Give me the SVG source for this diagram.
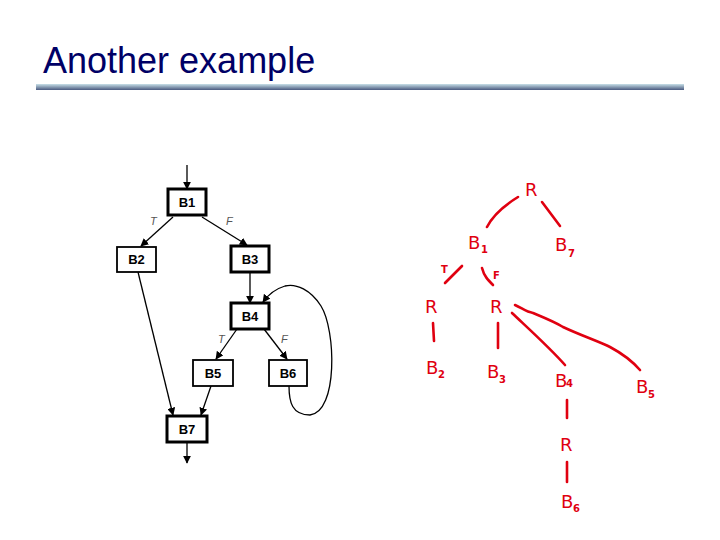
<svg xmlns="http://www.w3.org/2000/svg" width="720" height="540" viewBox="0 0 720 540">
<style>
.box{fill:#fff;stroke:#000}
.thick{stroke-width:3}
.thin{stroke-width:1.8}
.bl{font-family:"Liberation Sans",Arial,sans-serif;font-weight:bold;font-size:13px;text-anchor:middle;fill:#000}
.tf{font-family:"Liberation Sans",Arial,sans-serif;font-style:italic;font-size:11px;fill:#555}
.e{fill:none;stroke:#000;stroke-width:1.3}
.hw{fill:none;stroke:#e00010;stroke-width:2.6;stroke-linecap:round}
.ht{font-family:"DejaVu Sans",sans-serif;font-size:18px;fill:#e00010}
.hs{font-family:"DejaVu Sans",sans-serif;font-size:10px;fill:#e00010;font-weight:bold}
</style>
<defs>
<linearGradient id="bar" x1="0" y1="0" x2="0" y2="1">
<stop offset="0" stop-color="#c8e0e8"/>
<stop offset="1" stop-color="#4a5a80"/>
</linearGradient>
<marker id="ah" viewBox="0 0 10 10" refX="9" refY="5" markerWidth="8" markerHeight="8" markerUnits="userSpaceOnUse" orient="auto">
<path d="M0,0 L10,5 L0,10 z" fill="#000"/>
</marker>
</defs>
<rect width="720" height="540" fill="#fff"/>
<text x="43" y="73" font-family="Liberation Sans,Arial,sans-serif" font-size="36" fill="#000066">Another example</text>
<rect x="36" y="84" width="648" height="6" fill="url(#bar)"/>

<g id="connectors">
<line x1="187" y1="165" x2="187" y2="189" class="e" stroke-width="2.5" marker-end="url(#ah)"/>
<line x1="173" y1="217" x2="141" y2="246" class="e" stroke-width="1.6" marker-end="url(#ah)"/>
<line x1="202" y1="217" x2="247" y2="245" class="e" stroke-width="1.6" marker-end="url(#ah)"/>
<line x1="250" y1="272" x2="250" y2="303" class="e" stroke-width="2.5" marker-end="url(#ah)"/>
<line x1="237" y1="329" x2="216" y2="359" class="e" stroke-width="1.6" marker-end="url(#ah)"/>
<line x1="264" y1="329" x2="287" y2="359" class="e" stroke-width="1.6" marker-end="url(#ah)"/>
<line x1="138" y1="272" x2="173" y2="415" class="e" marker-end="url(#ah)"/>
<line x1="211" y1="386" x2="201" y2="415" class="e" marker-end="url(#ah)"/>
<line x1="187" y1="442" x2="187" y2="463" class="e" stroke-width="2.5" marker-end="url(#ah)"/>
<path d="M289,386 C289,402 292,415 310,415 C338,412 336,330 321,306 C311,290 296,283 285,286 C275,289 268,295 263,302" class="e" marker-end="url(#ah)"/>
</g>

<g id="B1"><rect x="168" y="189" width="38" height="26" class="box thick"/><text x="187" y="207" class="bl">B1</text></g>
<g id="B2"><rect x="117" y="247" width="39" height="25" class="box thin"/><text x="136.5" y="264" class="bl">B2</text></g>
<g id="B3"><rect x="231" y="246" width="38" height="26" class="box thick"/><text x="250" y="264" class="bl">B3</text></g>
<g id="B4"><rect x="231" y="303" width="38" height="26" class="box thick"/><text x="250" y="321" class="bl">B4</text></g>
<g id="B5"><rect x="193" y="360" width="40" height="26" class="box thin"/><text x="213" y="378" class="bl">B5</text></g>
<g id="B6"><rect x="269" y="360" width="38" height="26" class="box thin"/><text x="288" y="378" class="bl">B6</text></g>
<g id="B7"><rect x="167" y="416" width="40" height="26" class="box thick"/><text x="187" y="434" class="bl">B7</text></g>

<g id="labels">
<text x="150" y="225" class="tf">T</text>
<text x="226" y="225" class="tf">F</text>
<text x="218" y="343" class="tf">T</text>
<text x="281" y="343" class="tf">F</text>
</g>

<g id="tree">
<path class="hw" d="M518,197 C505,205 493,215 487,227"/>
<path class="hw" d="M542,202 L560,226"/>
<path class="hw" d="M462,266 L445,283"/>
<path class="hw" d="M482,268 C484,276 488,280 493,285"/>
<path class="hw" d="M433,323 L434,341"/>
<path class="hw" d="M498,323 L498,348"/>
<path class="hw" d="M512,313 C530,330 550,348 565,365"/>
<path class="hw" d="M515,305 C522,308 526,312 533,313 C545,318 555,322 563,327 C580,335 600,342 610,347 C625,355 633,362 640,370"/>
<path class="hw" d="M567,400 L567,418"/>
<path class="hw" d="M567,462 L567,482"/>
<text x="525" y="196" class="ht">R</text>
<text x="468" y="249" class="ht">B</text><text x="481" y="253" class="hs">1</text>
<text x="555" y="251" class="ht">B</text><text x="568" y="257" class="hs">7</text>
<text x="441" y="273" class="hs">T</text>
<text x="493" y="279" class="hs">F</text>
<text x="425" y="313" class="ht">R</text>
<text x="490" y="313" class="ht">R</text>
<text x="426" y="374" class="ht">B</text><text x="438" y="378" class="hs">2</text>
<text x="487" y="378" class="ht">B</text><text x="499" y="383" class="hs">3</text>
<text x="555" y="387" class="ht">B</text><text x="566" y="387" class="hs">4</text>
<text x="636" y="393" class="ht">B</text><text x="648" y="398" class="hs">5</text>
<text x="560" y="451" class="ht">R</text>
<text x="561" y="508" class="ht">B</text><text x="573" y="512" class="hs">6</text>
</g>
</svg>
